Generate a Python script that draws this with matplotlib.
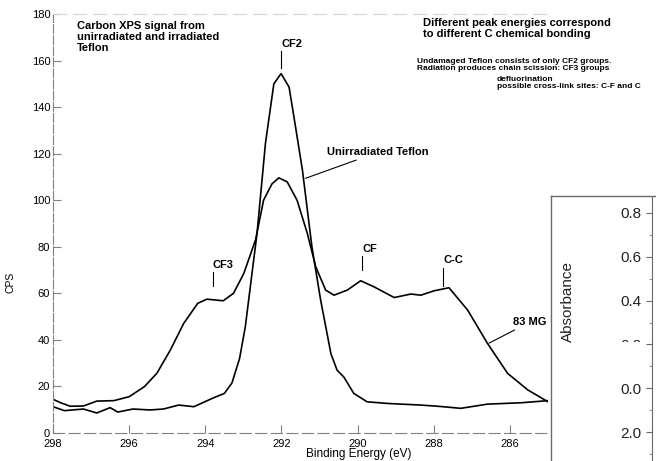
import numpy as np
import matplotlib.pyplot as plt
from matplotlib.lines import Line2D
from matplotlib.patches import Rectangle

plt.rcParams['font.family'] = ['Liberation Sans', 'DejaVu Sans']

# Unirradiated Teflon (sharp CF2 peak)
e_unirr = [298.0, 297.7, 297.2, 296.85, 296.5, 296.3, 295.9, 295.45, 295.1, 294.7,
           294.3, 293.8, 293.5, 293.3, 293.1, 292.95, 292.64, 292.42, 292.2, 292.01,
           291.8, 291.63, 291.45, 291.2, 290.97, 290.7, 290.54, 290.36, 290.1, 289.75,
           289.22, 288.34, 287.9, 287.29, 286.59, 285.7, 285.0]
cps_unirr = [11.3, 9.6, 10.3, 8.6, 10.9, 9.0, 10.3, 9.9, 10.3, 12.0,
             11.3, 15.0, 17.0, 21.5, 32.0, 45.6, 86.0, 124.5, 150.0, 154.4,
             148.6, 131.5, 113.0, 80.0, 57.0, 34.0, 27.0, 24.0, 17.0, 13.4,
             12.7, 12.0, 11.5, 10.6, 12.4, 13.0, 13.9]

# Irradiated Teflon, 83 MG
e_irr = [298.0, 297.8, 297.55, 297.2, 296.85, 296.4, 296.0, 295.6, 295.27, 294.92,
         294.57, 294.2, 293.96, 293.53, 293.26, 292.99, 292.68, 292.47, 292.25, 292.07,
         291.85, 291.59, 291.32, 291.1, 290.84, 290.62, 290.27, 289.92, 289.57, 289.04,
         288.6, 288.34, 287.99, 287.6, 287.11, 286.59, 286.06, 285.53, 285.0]
cps_irr = [14.5, 13.0, 11.5, 11.6, 13.7, 13.9, 15.6, 19.9, 25.7, 35.6,
           47.0, 55.7, 57.5, 56.8, 60.0, 68.5, 83.0, 100.0, 107.0, 109.6,
           107.9, 100.0, 85.7, 71.4, 61.4, 59.2, 61.4, 65.4, 62.8, 58.2,
           59.7, 59.2, 61.1, 62.4, 52.8, 38.5, 25.6, 18.5, 13.4]

# peak markers: label, energy, line bottom, line top
peaks = [('CF2', 292.0, 157, 164), ('CF3', 293.8, 63, 69),
         ('CF', 289.88, 70, 76), ('C-C', 287.75, 63, 71)]

abs_ticks = [0.8, 0.6, 0.4, 0.2, 0.0, -0.2]
abs_labels = ['0.8', '0.6', '0.4', '0.2', '0.0', '2.0']

W, H = 656, 461
fig = plt.figure(figsize=(W / 100, H / 100), dpi=100)
ax = fig.add_axes([53 / W, (H - 433) / H, (548 - 53) / W, (433 - 14) / H])

ax.plot(e_unirr, cps_unirr, color='black', lw=1.2)
ax.plot(e_irr, cps_irr, color='black', lw=1.2)

ax.set_xlim(298, 285)
ax.set_ylim(0, 180)
ax.set_xticks([298, 296, 294, 292, 290, 288, 286])
ax.set_yticks(np.arange(0, 181, 20))
ax.tick_params(direction='in', length=6, width=0.8, labelsize=8, color='gray')
ax.tick_params(axis='y', pad=2)
ax.tick_params(axis='x', pad=4)

ax.spines['right'].set_visible(False)
ax.spines['left'].set_color('gray')
ax.spines['left'].set_linewidth(0.8)
ax.spines['left'].set_linestyle((0, (8, 2)))
ax.spines['bottom'].set_color('gray')
ax.spines['bottom'].set_linestyle((0, (10, 4)))
ax.spines['top'].set_color('lightgray')
ax.spines['top'].set_linestyle((0, (12, 6)))

ax.set_xlabel('Binding Energy (eV)', fontsize=8.5)
ax.xaxis.set_label_coords((359 - 53) / (548 - 53), -(447.5 - 433) / (433 - 14))
ax.set_ylabel('CPS', fontsize=7.5)
ax.yaxis.set_label_coords(-0.075, 0.36)

for name, e, lo, hi in peaks:
    ax.plot([e, e], [lo, hi], color='black', lw=0.8)
    ax.text(e, hi + 1.0, name, fontsize=8, fontweight='bold', ha='left', va='bottom')

ax.annotate('Unirradiated Teflon', xy=(291.37, 109.4), xytext=(290.8, 120.6),
            fontsize=8, fontweight='bold', va='center',
            arrowprops=dict(arrowstyle='-', color='black', lw=0.8, shrinkA=0, shrinkB=0))
ax.annotate('83 MG', xy=(286.55, 38.6), xytext=(285.92, 47.6),
            fontsize=8, fontweight='bold', va='center',
            arrowprops=dict(arrowstyle='-', color='black', lw=0.8, shrinkA=0, shrinkB=0))

fig.text(77 / W, 1 - 21 / H, 'Carbon XPS signal from\nunirradiated and irradiated\nTeflon',
         fontsize=8, fontweight='bold', va='top', ha='left', linespacing=1.15)
fig.text(423 / W, 1 - 18 / H, 'Different peak energies correspond\nto different C chemical bonding',
         fontsize=8, fontweight='bold', va='top', ha='left', linespacing=1.1)
fig.text(417 / W, 1 - 58 / H, 'Undamaged Teflon consists of only CF2 groups.\n'
         'Radiation produces chain scission: CF3 groups',
         fontsize=6, fontweight='bold', va='top', ha='left', linespacing=1.05)
fig.text(497 / W, 1 - 76 / H, 'defluorination\npossible cross-link sites: C-F and C',
         fontsize=6, fontweight='bold', va='top', ha='left', linespacing=1.05)

# overlapping piece of another figure (absorbance axis) on the right
fig.patches.append(Rectangle((551 / W, 0), (W - 551) / W, (H - 196) / H,
                             transform=fig.transFigure, facecolor='white',
                             edgecolor='none', zorder=5))
fig.lines.append(Line2D([551 / W, 551 / W], [0, (H - 196) / H], transform=fig.transFigure,
                        color='dimgray', lw=1, zorder=6))
fig.lines.append(Line2D([551 / W, 1], [(H - 196) / H, (H - 196) / H],
                        transform=fig.transFigure, color='dimgray', lw=1, zorder=6))

ax2 = fig.add_axes([652 / W, 0, 0.3, (H - 197) / H], zorder=7)
ax2.patch.set_alpha(0)
ax2.set_ylim(-0.332, 0.873)
ax2.set_yticks(abs_ticks)
ax2.set_yticklabels(abs_labels)
ax2.set_yticks(np.arange(-0.3, 0.85, 0.1), minor=True)
ax2.set_xticks([])
ax2.tick_params(axis='y', which='major', direction='out', length=4, labelsize=11,
                color='dimgray', labelcolor='#222222')
ax2.tick_params(axis='y', which='minor', direction='out', length=2, color='gray')
for s in ['top', 'right', 'bottom']:
    ax2.spines[s].set_visible(False)
ax2.spines['left'].set_color('dimgray')
ax2.set_ylabel('Absorbance', fontsize=11, color='#222222')
ax2.yaxis.set_label_coords((575 - 652) / (0.3 * W), (H - 302) / (H - 197))

# the 0.2 label is half hidden in the scan
fig.patches.append(Rectangle((612 / W, 1 - 352 / H), 34 / W, 10.5 / H,
                             transform=fig.transFigure, facecolor='white',
                             edgecolor='none', zorder=20))

fig.savefig('out.png', dpi=100)
